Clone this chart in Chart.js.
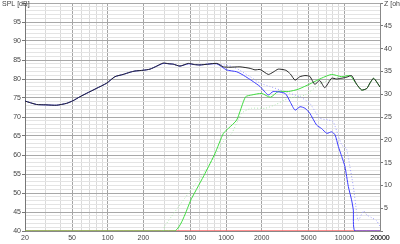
<!DOCTYPE html>
<html>
<head>
<meta charset="utf-8">
<script src="https://cdn.jsdelivr.net/npm/chart.js@4.4.1/dist/chart.umd.min.js"></script>
<style>
  html, body { margin: 0; padding: 0; background: #fff; }
</style>
</head>
<body>
<canvas id="chart" width="400" height="244"></canvas>
<script>
// Frequency axis ticks
const xLabels = [20, 50, 100, 200, 500, 1000, 2000, 5000, 10000, 20000];

// Summed response (black)
const sumFreq = [20, 25, 30, 37, 45, 51, 58, 66, 80, 98, 115, 135, 155, 170, 200, 228, 260, 294, 330, 358, 408, 480, 540, 602, 700, 836, 950, 1080, 1310, 1600, 1756, 1940, 2275, 2500, 2760, 3200, 3500, 3830, 4200, 4640, 5100, 5620, 6190, 6830, 7800, 8600, 9500, 10500, 11500, 12700, 14000, 15460, 16500, 17600, 18200, 20000];
const sumSpl = [74.2, 73.3, 73.2, 73.1, 73.6, 74.3, 75.3, 76.2, 77.5, 78.9, 80.6, 81.2, 81.8, 82.1, 82.3, 82.6, 83.4, 84.2, 84.0, 83.9, 83.4, 84.1, 83.8, 83.7, 83.9, 84.1, 83.2, 83.1, 83.2, 82.8, 82.4, 82.5, 81.2, 81.8, 82.6, 82.3, 81.3, 79.7, 80.6, 80.9, 80.7, 78.6, 79.6, 77.7, 80.2, 80.0, 80.2, 80.5, 80.9, 78.6, 77.1, 77.5, 79.0, 80.2, 79.8, 77.9];

// Woofer (blue)
const wooferFreq = [20, 25, 30, 37, 45, 51, 58, 66, 80, 98, 115, 135, 155, 170, 200, 228, 260, 294, 330, 358, 408, 480, 540, 602, 700, 836, 1010, 1230, 1400, 1700, 1940, 2275, 2500, 3160, 3480, 3830, 4220, 4640, 5100, 5820, 6390, 7120, 7800, 8340, 8900, 9500, 10120, 10800, 11500, 11900, 12280, 20000];
const wooferSpl = [74.2, 73.3, 73.2, 73.1, 73.6, 74.3, 75.3, 76.2, 77.5, 78.9, 80.6, 81.2, 81.8, 82.1, 82.3, 82.6, 83.4, 84.1, 84.0, 83.9, 83.4, 84.0, 83.8, 83.7, 83.9, 84.0, 82.4, 81.9, 81.0, 79.3, 78.0, 75.8, 76.7, 76.2, 74.0, 71.8, 72.7, 72.3, 71.0, 67.9, 67.0, 65.7, 66.1, 65.3, 62.2, 59.6, 56.9, 51.7, 48.2, 45.5, 40, 40];

// Woofer reference (dotted blue)
const wooferRefFreq = [600, 800, 1150, 1600, 1940, 2370, 2870, 3480, 4220, 5100, 6190, 7320, 8040, 9500, 10400, 11140, 11900, 12700, 13100, 14500, 15500, 17000, 18700, 20000];
const wooferRefSpl = [83.7, 84.0, 83.2, 80.6, 78.9, 78.0, 77.1, 76.2, 75.3, 73.6, 69.7, 69.2, 68.8, 62.6, 61.7, 56.9, 51.7, 44.9, 42.7, 45.3, 44.2, 43.5, 42.7, 41.2];

// Tweeter (green)
const tweeterFreq = [20, 365, 512, 666, 806, 950, 1046, 1230, 1460, 1650, 2000, 2370, 2760, 3360, 4070, 5270, 6390, 7800, 9500, 11140, 12700, 14000, 15460, 16500, 17600, 18200, 20000];
const tweeterSpl = [40, 40, 48.6, 55.2, 60.4, 65.7, 67.0, 69.2, 75.3, 75.8, 76.2, 75.2, 76.7, 76.7, 77.3, 78.9, 80.2, 81.2, 80.6, 80.9, 78.6, 77.1, 77.5, 79.0, 80.2, 79.8, 77.9];

// Tweeter reference (dotted green)
const tweeterRefFreq = [294, 305, 480, 707, 950, 1117, 1358, 1640, 2140, 2600, 3360, 4640, 6390, 8340, 10800, 11500];
const tweeterRefSpl = [40, 41.4, 49.9, 56.9, 63.5, 65.7, 71.0, 72.3, 72.3, 73.2, 74.9, 75.8, 78.9, 80.2, 80.9, 80.9];

// Red trace sitting on the floor of the plot
const floorFreq = [20, 20000];
const floorSpl = [40, 40];

const FONT = { family: '"Liberation Sans", Arial, sans-serif', size: 7 };

function pts(fs, vs) {
  return fs.map((f, i) => ({ x: f, y: vs[i] }));
}

function line(label, fs, vs, color, extra) {
  return Object.assign({
    label: label,
    data: pts(fs, vs),
    borderColor: color,
    borderWidth: 1,
    pointRadius: 0,
    tension: 0.2,
    fill: false,
    clip: 0
  }, extra || {});
}

// all 1..9 x 10^n gridlines on the log axis
function logTicks() {
  const t = [];
  for (let d = 10; d <= 10000; d *= 10) {
    for (let m = 1; m <= 9; m++) {
      const v = m * d;
      if (v >= 20 && v <= 20000) t.push({ value: v });
    }
  }
  t.push({ value: 20000 });
  return t;
}

const axisTitles = {
  id: 'axisTitles',
  afterDraw(chart) {
    const c = chart.ctx;
    c.save();
    c.font = '7px "Liberation Sans", Arial, sans-serif';
    c.fillStyle = '#444';
    c.textBaseline = 'top';
    c.fillText('SPL [dB]', 2, 1);
    c.fillText('Z [ohm]', 384, 1);
    c.restore();
  }
};

new Chart(document.getElementById('chart'), {
  type: 'line',
  data: {
    datasets: [
      line('Summe', sumFreq, sumSpl, '#262626'),
      line('Tieftöner', wooferFreq, wooferSpl, '#3c3cff'),
      line('Hochtöner', tweeterFreq, tweeterSpl, '#40dc40'),
      line('Tieftöner Ziel', wooferRefFreq, wooferRefSpl, '#a0a0ff', { borderDash: [1, 2] }),
      line('Hochtöner Ziel', tweeterRefFreq, tweeterRefSpl, '#aee8ae', { borderDash: [1, 2] }),
      line('Impedanz', floorFreq, floorSpl, '#ff6c6c', { borderWidth: 1.4 })
    ]
  },
  options: {
    responsive: false,
    animation: false,
    layout: { padding: { top: 3, left: 0, right: 0, bottom: 0 } },
    plugins: { legend: { display: false }, tooltip: { enabled: false } },
    scales: {
      x: {
        type: 'logarithmic',
        min: 20,
        max: 20000,
        afterBuildTicks: s => { s.ticks = logTicks(); },
        afterFit: s => { s.height = 13; s.paddingLeft = 0; s.paddingRight = 0; },
        ticks: {
          autoSkip: false,
          maxRotation: 0,
          font: FONT,
          color: '#444',
          padding: 1,
          callback: v => xLabels.includes(v) ? String(v) : ''
        },
        grid: {
          color: ctx => {
            const v = ctx.tick.value;
            const m = v / Math.pow(10, Math.floor(Math.log10(v) + 1e-9));
            return (Math.abs(m - 1) < 1e-6 || Math.abs(m - 2) < 1e-6 || Math.abs(m - 5) < 1e-6) ? '#a4a4a4' : '#dadada';
          },
          tickLength: 2,
          tickColor: 'rgba(0,0,0,0)'
        },
        border: { color: '#888' }
      },
      y: {
        position: 'left',
        min: 40,
        max: 100,
        afterFit: s => { s.width = 25; s.paddingTop = 0; s.paddingBottom = 0; },
        ticks: {
          stepSize: 1,
          autoSkip: false,
          font: FONT,
          color: '#444',
          padding: 1,
          callback: v => (v % 5 === 0 && v < 100) ? String(v) : ''
        },
        grid: {
          color: ctx => ctx.tick.value % 5 === 0 ? '#a8a8a8' : '#e4e4e4',
          tickLength: 3,
          tickColor: ctx => ctx.tick.value % 5 === 0 ? '#777' : 'rgba(0,0,0,0)'
        },
        border: { color: '#777' }
      },
      y2: {
        position: 'right',
        min: 0,
        max: 50,
        afterFit: s => { s.width = 20; s.paddingTop = 0; s.paddingBottom = 0; },
        ticks: {
          stepSize: 5,
          autoSkip: false,
          font: FONT,
          color: '#444',
          padding: 1,
          callback: v => (v > 0 && v < 50) ? String(v) : ''
        },
        grid: {
          drawOnChartArea: false,
          tickLength: 3,
          tickColor: '#777'
        },
        border: { color: '#888' }
      }
    }
  },
  plugins: [axisTitles]
});
</script>
</body>
</html>
